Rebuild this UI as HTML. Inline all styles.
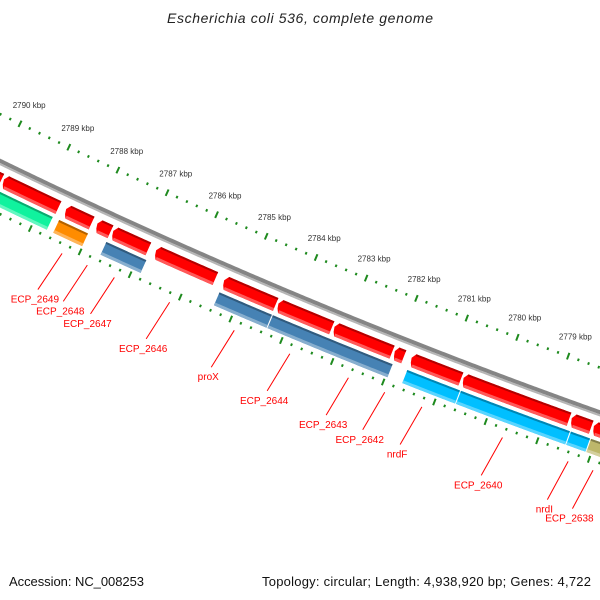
<!DOCTYPE html>
<html><head><meta charset="utf-8"><style>
html,body{margin:0;padding:0;background:#fff;}
svg{display:block;}
text{font-family:"Liberation Sans",sans-serif;}
</style></head><body>
<svg id="map" width="600" height="600" viewBox="0 0 600 600" xmlns="http://www.w3.org/2000/svg" style="overflow:hidden">
<rect width="600" height="600" fill="#fff"/>
<text x="300" y="23" text-anchor="middle" font-size="14" font-style="italic" fill="#222" textLength="266">Escherichia coli 536, complete genome</text>
<g id="ticks"></g>
<g id="backbone"></g>
<g id="genes"></g>
<g id="labels"></g>
<text x="9" y="586" font-size="13" fill="#111" textLength="135">Accession: NC_008253</text>
<text x="262" y="586" font-size="13" fill="#111" textLength="329">Topology: circular; Length: 4,938,920 bp; Genes: 4,722</text>
</svg>
<script>
// forward-strand genes (kbp start, kbp end, label)
const fwdStart = [2790.3, 2789.83, 2788.57, 2787.94, 2787.62, 2786.76, 2785.40, 2784.32, 2783.21, 2782.02, 2781.69, 2780.67, 2778.56, 2778.13];
const fwdEnd   = [2789.83, 2788.67, 2788.00, 2787.62, 2786.86, 2785.52, 2784.32, 2783.21, 2782.02, 2781.79, 2780.67, 2778.56, 2778.13, 2777.6];
const fwdLabels = ["", "", "ECP_2649", "ECP_2648", "ECP_2647", "ECP_2646", "proX", "ECP_2644", "ECP_2643", "ECP_2642", "nrdF", "ECP_2640", "nrdI", "ECP_2638"];
// reverse-strand genes
const revStart = [2790.13, 2788.60, 2787.65, 2785.39, 2784.33, 2781.68, 2780.63, 2778.49, 2778.10];
const revEnd   = [2788.71, 2788.00, 2786.83, 2784.33, 2781.95, 2780.63, 2778.49, 2778.10, 2777.4];
const revColors = ["#10f29e", "#ff8c00", "#4682b4", "#4682b4", "#4682b4", "#00bfff", "#00bfff", "#00bfff", "#bdb76b"];
// ticks
const tickMin = 2777;
const tickMax = 2791;
const tickLabelKbp = [2790, 2789, 2788, 2787, 2786, 2785, 2784, 2783, 2782, 2781, 2780, 2779];

const NS = "http://www.w3.org/2000/svg";
const CX = 2580, CY = -5153;
function ang(k){ return (115.88 - (2790 - k) * 0.529) * Math.PI / 180; }
function P(k, r){ const a = ang(k); return [CX + r * Math.cos(a), CY + r * Math.sin(a)]; }
function arcPts(k1, k2, r){ const pts=[]; const n=Math.max(2, Math.ceil(Math.abs(k1-k2)/0.05)); for(let i=0;i<=n;i++){ pts.push(P(k1+(k2-k1)*i/n, r)); } return pts; }
function ps(pts){ return pts.map(p=>p[0].toFixed(2)+","+p[1].toFixed(2)).join(" "); }
function mk(tag, parent){ const e=document.createElementNS(NS, tag); parent.appendChild(e); return e; }
function shade(hex, f){ const n=parseInt(hex.slice(1),16); let r=n>>16,g=(n>>8)&255,b=n&255;
  if(f<0){ r=r*(1+f); g=g*(1+f); b=b*(1+f);} else { r=r+(255-r)*f; g=g+(255-g)*f; b=b+(255-b)*f; }
  return "rgb("+Math.round(r)+","+Math.round(g)+","+Math.round(b)+")"; }

// ticks
const tg = document.getElementById("ticks");
[5865, 5955].forEach(function(r, ri){
  for (let i = Math.round(tickMin*5); i <= tickMax*5; i++){
    const k = i/5;
    const major = (i % 5 === 0);
    const len = major ? 7 : 2.6;
    const a = P(k, r - len/2), b = P(k, r + len/2);
    const l = mk("line", tg);
    
    
    l.setAttribute("x1", a[0]); l.setAttribute("y1", a[1]);
    l.setAttribute("x2", b[0]); l.setAttribute("y2", b[1]);
    l.setAttribute("stroke", "#1e8a1e"); l.setAttribute("stroke-width", "2");
  }
});
tickLabelKbp.forEach(function(k){
  const p = P(k, 5844);
  const t = mk("text", tg);
  
  
  t.setAttribute("x", p[0]); t.setAttribute("y", p[1] + 3);
  t.setAttribute("text-anchor", "middle"); t.setAttribute("font-size", "8"); t.setAttribute("fill", "#333");
  t.textContent = k + " kbp";
});

// backbone
const bg = document.getElementById("backbone");
const b1 = mk("polyline", bg);


b1.setAttribute("points", ps(arcPts(2792, 2776, 5907)));
b1.setAttribute("fill", "none"); b1.setAttribute("stroke", "#858585"); b1.setAttribute("stroke-width", "4");
const b2 = mk("polyline", bg);


b2.setAttribute("points", ps(arcPts(2792, 2776, 5910)));
b2.setAttribute("fill", "none"); b2.setAttribute("stroke", "#b5b5b5"); b2.setAttribute("stroke-width", "2");

const gg = document.getElementById("genes");
function strips(k1, k2, r1, r2, col, g){
  const top = mk("polyline", g);
  
  
  top.setAttribute("points", ps(arcPts(k1, k2, r1 + 1)));
  top.setAttribute("fill", "none"); top.setAttribute("stroke", shade(col, -0.3)); top.setAttribute("stroke-width", "2");
  const bot = mk("polyline", g);
  
  
  bot.setAttribute("points", ps(arcPts(k1, k2, r2 - 1.5)));
  bot.setAttribute("fill", "none"); bot.setAttribute("stroke", shade(col, 0.35)); bot.setAttribute("stroke-width", "3");
}
// forward genes (red, arrow at left end)
fwdStart.forEach(function(s, i){
  const e = fwdEnd[i];
  const k1 = s - 0.03, k2 = e + 0.03, r1 = 5917, r2 = 5931;
  const g = mk("g", gg);
  
  
  const head = Math.min(0.1, (k1-k2)/2);
  const pts = [P(k1 - head*0.4, r1)].concat(arcPts(k1 - head*0.4, k2, r1), arcPts(k2, k1 - head*0.4, r2), [P(k1, r2 - 4), P(k1 + 0.02, r1 + 5)]);
  const poly = mk("polygon", g);
  
  
  poly.setAttribute("points", ps(pts)); poly.setAttribute("fill", "#ff0000");
  strips(k1 - head*0.4, k2, r1, r2, "#ff0000", g);
});
// reverse genes
revStart.forEach(function(s, i){
  const e = revEnd[i];
  const k1 = s - 0.01, k2 = e + 0.01, r1 = 5935, r2 = 5949;
  const g = mk("g", gg);
  
  
  const pts = arcPts(k1, k2, r1).concat(arcPts(k2, k1, r2));
  const poly = mk("polygon", g);
  
  
  poly.setAttribute("points", ps(pts)); poly.setAttribute("fill", revColors[i]);
  strips(k1, k2, r1, r2, revColors[i], g);
});

// labels
const lg = document.getElementById("labels");
fwdLabels.forEach(function(name, i){
  if (!name) return;
  const mid = (fwdStart[i] + fwdEnd[i]) / 2;
  const a = P(mid, 5964), b = P(mid + 0.12, 6007);
  const l = mk("line", lg);
  
  
  l.setAttribute("x1", a[0]); l.setAttribute("y1", a[1]);
  l.setAttribute("x2", b[0]); l.setAttribute("y2", b[1]);
  l.setAttribute("stroke", "#ff0000"); l.setAttribute("stroke-width", "1");
  const t = mk("text", lg);
  
  
  t.setAttribute("x", b[0] - 3); t.setAttribute("y", b[1] + 13);
  t.setAttribute("text-anchor", "middle"); t.setAttribute("font-size", "10"); t.setAttribute("fill", "#ff0000");
  t.textContent = name;
});
</script>
</body></html>
